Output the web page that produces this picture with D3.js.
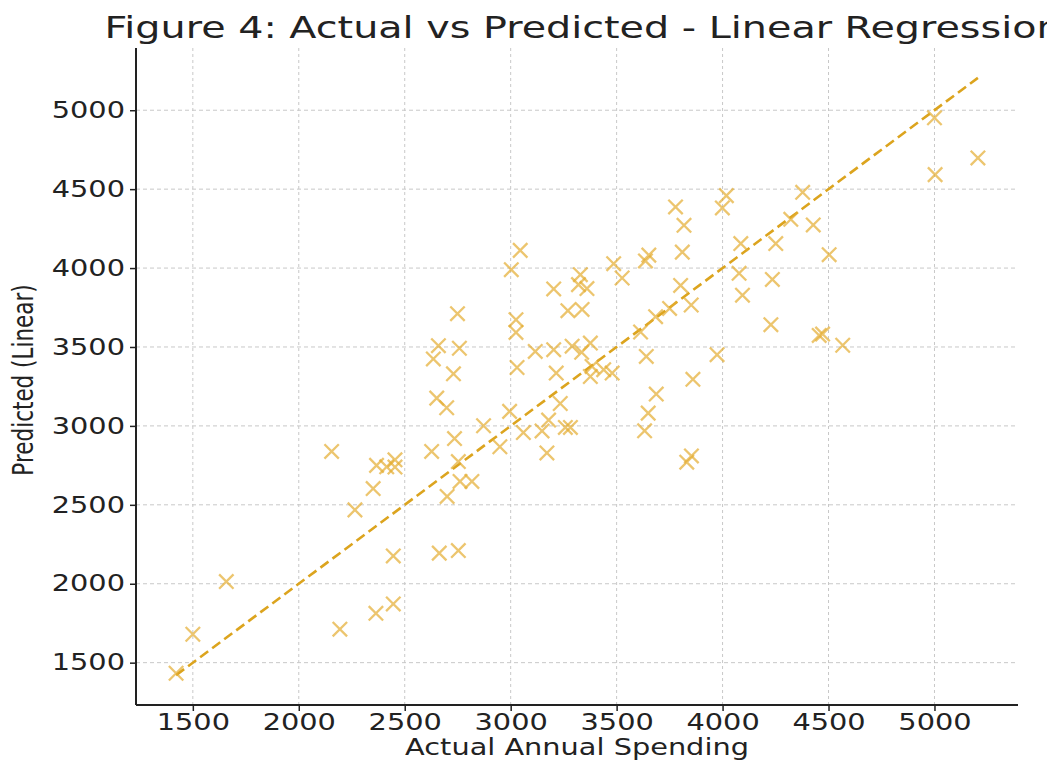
<!DOCTYPE html>
<meta charset="utf-8">
<script src="https://d3js.org/d3.v7.min.js"></script>
<style>
  body { margin: 0; background: #fff; }
  text { font-family: "DejaVu Sans", sans-serif; fill: #222; }
</style>
<div id="chart"></div>
<script>

// actual annual spending (x) and linear regression prediction (y)
var actual = [1421, 1500, 1658, 2155, 2194, 2265, 2351, 2364, 2367, 2415,
  2446, 2446, 2454, 2454, 2627, 2635, 2651, 2659, 2663, 2698,
  2700, 2730, 2735, 2749, 2753, 2753, 2758, 2761, 2817, 2872,
  2949, 2995, 3003, 3025, 3025, 3030, 3045, 3060, 3116, 3148,
  3171, 3179, 3203, 3203, 3215, 3234, 3258, 3282, 3270, 3337,
  3290, 3320, 3329, 3360, 3376, 3335, 3384, 3439, 3376, 3479,
  3486, 3526, 3613, 3636, 3652, 3640, 3632, 3649, 3687, 3684,
  3750, 3778, 3802, 3810, 3818, 3831, 3853, 3852, 3860, 3974,
  3999, 4018, 4078, 4086, 4094, 4228, 4235, 4251, 4322, 4378,
  4428, 4456, 4472, 4503, 4567, 5000, 5003, 5205]
var predicted = [1433, 1680, 2014, 2838, 1712, 2468, 2603, 1813, 2750, 2741,
  2176, 1872, 2785, 2739, 2838, 3424, 3176, 3508, 2194, 3115,
  2553, 3330, 2920, 3711, 2210, 2774, 3492, 2648, 2648, 3001,
  2868, 3092, 3990, 3673, 3592, 3370, 4112, 2958, 3472, 2968,
  2829, 3037, 3868, 3483, 3335, 3142, 2990, 2990, 3730, 3738,
  3505, 3895, 3958, 3870, 3525, 3466, 3377, 3356, 3313, 3335,
  4028, 3937, 3595, 4045, 4082, 3440, 2969, 3081, 3202, 3692,
  3744, 4387, 3890, 4101, 4271, 2770, 2810, 3766, 3295, 3451,
  4381, 4459, 3967, 4155, 3828, 3641, 3928, 4155, 4309, 4480,
  4273, 3573, 3582, 4085, 3511, 4952, 4592, 4698]
var tickValues = [1500, 2000, 2500, 3000, 3500, 4000, 4500, 5000]

var W = 1047, H = 761
var plot = {left: 136, right: 1018, top: 48, bottom: 705}
var stretch = 1.28   // the picture is widened, so is its text

var svg = d3.select("#chart").append("svg")
  .attr("width", W).attr("height", H)

// same padded range on both axes (data plus the identity line)
var all = actual.concat(predicted)
var lo = d3.min(all), hi = d3.max(all), pad = (hi - lo) * 0.05

var x = d3.scaleLinear().domain([lo - pad, hi + pad]).range([plot.left, plot.right])
var y = d3.scaleLinear().domain([lo - pad, hi + pad]).range([plot.bottom, plot.top])

// grid
svg.append("g").selectAll("line").data(tickValues).enter().append("line")
  .attr("x1", function(d){ return x(d) }).attr("x2", function(d){ return x(d) })
  .attr("y1", plot.top).attr("y2", plot.bottom)
  .attr("stroke", "#c8c8c8").attr("stroke-width", 1).attr("stroke-dasharray", "3,3")
svg.append("g").selectAll("line").data(tickValues).enter().append("line")
  .attr("y1", function(d){ return y(d) }).attr("y2", function(d){ return y(d) })
  .attr("x1", plot.left).attr("x2", plot.right)
  .attr("stroke", "#c8c8c8").attr("stroke-width", 1).attr("stroke-dasharray", "4,3")

// axes
var xAxis = svg.append("g")
  .attr("transform", "translate(0," + plot.bottom + ")")
  .call(d3.axisBottom(x).tickValues(tickValues).tickSize(6).tickFormat(d3.format("d")))
xAxis.select(".domain").attr("stroke", "#222").attr("stroke-width", 2)
  .attr("d", "M" + plot.left + ",0H" + plot.right)
xAxis.selectAll(".tick line").attr("stroke", "#222").attr("stroke-width", 1.5)
xAxis.selectAll(".tick text")
  .attr("y", 9).attr("font-size", "22.5px").attr("font-family", "DejaVu Sans").attr("fill", "#222")
  .attr("transform", "scale(" + stretch + ",1)")

var yAxis = svg.append("g")
  .attr("transform", "translate(" + plot.left + ",0)")
  .call(d3.axisLeft(y).tickValues(tickValues).tickSize(6).tickFormat(d3.format("d")))
yAxis.select(".domain").attr("stroke", "#222").attr("stroke-width", 2)
  .attr("d", "M0," + plot.top + "V" + plot.bottom)
yAxis.selectAll(".tick line").attr("stroke", "#222").attr("stroke-width", 1.5)
yAxis.selectAll(".tick text")
  .attr("x", -8.6).attr("font-size", "22.5px").attr("font-family", "DejaVu Sans").attr("fill", "#222")
  .attr("transform", "scale(" + stretch + ",1)")

// identity line from smallest to largest actual value
var lineExtent = d3.extent(actual)
svg.append("line")
  .attr("x1", x(lineExtent[0])).attr("y1", y(lineExtent[0]))
  .attr("x2", x(lineExtent[1])).attr("y2", y(lineExtent[1]))
  .attr("stroke", "#DCA41E").attr("stroke-width", 2.6).attr("stroke-dasharray", "10,5")

// x markers
var s = 7.2
svg.append("g").selectAll("path").data(actual).enter().append("path")
  .attr("d", function(d, i) {
    var cx = x(d), cy = y(predicted[i])
    return "M" + (cx - s) + "," + (cy - s) + "L" + (cx + s) + "," + (cy + s) +
           "M" + (cx - s) + "," + (cy + s) + "L" + (cx + s) + "," + (cy - s)
  })
  .attr("stroke", "#E4AC30").attr("stroke-width", 2.3).attr("stroke-opacity", 0.7).attr("fill", "none")

// labels
function stretchedText(px, py, str, size, rot) {
  return svg.append("text")
    .attr("transform", "translate(" + px + "," + py + ") scale(" + stretch + ",1)" + (rot ? " rotate(" + rot + ")" : ""))
    .attr("text-anchor", "middle")
    .attr("font-size", size)
    .text(str)
}
stretchedText(583, 38, "Figure 4: Actual vs Predicted - Linear Regression", "31px")
stretchedText((plot.left + plot.right) / 2, 755, "Actual Annual Spending", "22.5px")
stretchedText(33, 380, "Predicted (Linear)", "21.5px", -90)

</script>
